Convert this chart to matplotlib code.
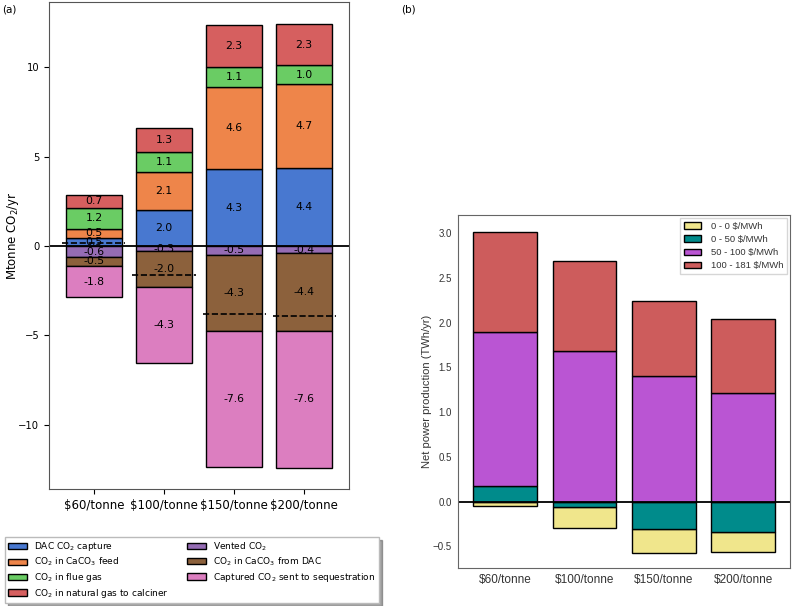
import numpy as np
import matplotlib
matplotlib.use("Agg")
import matplotlib.pyplot as plt

################################################################################
# data
prices = ["$60/tonne", "$100/tonne", "$150/tonne", "$200/tonne"]

# panel (a): Mtonne CO2/yr
dac_capture   = [0.47, 2.00, 4.29, 4.38]
caco3_feed    = [0.48, 2.13, 4.63, 4.68]
flue_gas      = [1.19, 1.14, 1.10, 1.04]
natural_gas   = [0.73, 1.32, 2.33, 2.33]
vented        = [-0.63, -0.30, -0.48, -0.42]
caco3_dac     = [-0.48, -2.01, -4.28, -4.36]
sequestration = [-1.77, -4.26, -7.59, -7.62]
net_removal   = [0.17, -1.62, -3.79, -3.90]

# panel (b): TWh/yr
band_0_0     = [-0.05, -0.23, -0.26, -0.22]
band_0_50    = [0.17, -0.06, -0.31, -0.34]
band_50_100  = [1.73, 1.69, 1.41, 1.22]
band_100_181 = [1.12, 1.00, 0.83, 0.82]
band_labels  = ["0 - 0 \\$/MWh", "0 - 50 \\$/MWh", "50 - 100 \\$/MWh", "100 - 181 \\$/MWh"]

################################################################################
fig = plt.figure(figsize=(7.92, 6.06), dpi=100)
x = np.arange(len(prices))
tick_names = [p.replace("$", "\\$") for p in prices]

# ---- panel (a)
ax = fig.add_axes([0.0619, 0.1931, 0.3788, 0.8036])
muted = ["#4878d0", "#ee854a", "#6acc64", "#d65f5f", "#956cb4", "#8c613c", "#dc7ec0"]
series = [dac_capture, caco3_feed, flue_gas, natural_gas, vented, caco3_dac, sequestration]
names = ["DAC CO$_2$ capture", "CO$_2$ in CaCO$_3$ feed", "CO$_2$ in flue gas",
         "CO$_2$ in natural gas to calciner", "Vented CO$_2$",
         "CO$_2$ in CaCO$_3$ from DAC", "Captured CO$_2$ sent to sequestration"]
pos_bot = np.zeros(4)
neg_bot = np.zeros(4)
handles = []
for vals, col, name in zip(series, muted, names):
    vals = np.array(vals)
    bot = np.where(vals >= 0, pos_bot, neg_bot)
    h = ax.bar(x, vals, 0.8, bottom=bot, color=col, edgecolor="black",
               linewidth=1.0, label=name)
    handles.append(h)
    for xi, v, b in zip(x, vals, bot):
        ax.text(xi, b + v / 2, "%.1f" % v, ha="center", va="center", fontsize=7.8)
    pos_bot = np.where(vals >= 0, pos_bot + vals, pos_bot)
    neg_bot = np.where(vals < 0, neg_bot + vals, neg_bot)

for xi, v in zip(x, net_removal):
    ax.plot([xi - 0.45, xi + 0.45], [v, v], "k--", lw=1.2)
ax.axhline(0, color="black", lw=1.3)
ax.set_xlim(-0.64, 3.64)
ax.set_ylim(-13.6, 13.65)
ax.set_yticks([-10, -5, 0, 5, 10])
ax.set_yticklabels(["\u221210", "\u22125", "0", "5", "10"])
ax.set_xticks(x)
ax.set_xticklabels(tick_names, fontsize=8.5)
ax.tick_params(axis="y", labelsize=7.2)
ax.set_ylabel("Mtonne CO$_2$/yr", fontsize=8.5)
ax.yaxis.set_label_coords(-0.095, 0.52)
for s in ax.spines.values():
    s.set_color("#555555")
fig.text(0.003, 0.985, "(a)", fontsize=7.5, va="center")

leg = fig.legend(handles=handles, ncol=2,
                 loc="lower left", bbox_to_anchor=(0.006, 0.005), fontsize=6.5,
                 shadow=True, fancybox=False, handlelength=2.1, handletextpad=0.8,
                 columnspacing=2.0, labelspacing=0.3, borderpad=0.35, borderaxespad=0)
leg.get_frame().set_edgecolor("#bbbbbb")

# ---- panel (b)
grey = "#333333"
bx = fig.add_axes([0.5783, 0.0627, 0.4192, 0.5825])
bcols = ["khaki", "darkcyan", "mediumorchid", "indianred"]
bands = [band_0_0, band_0_50, band_50_100, band_100_181]
pos_bot = np.zeros(4)
neg_bot = np.zeros(4)
# negatives stack outward from zero in reverse order
neg_start = {}
for i in reversed(range(len(bands))):
    vals = np.array(bands[i])
    neg_start[i] = neg_bot.copy()
    neg_bot = np.where(vals < 0, neg_bot + vals, neg_bot)
bh = []
for i, (vals, col, lab) in enumerate(zip(bands, bcols, band_labels)):
    vals = np.array(vals)
    bot = np.where(vals >= 0, pos_bot, neg_start[i])
    h = bx.bar(x, vals, 0.8, bottom=bot, color=col, edgecolor="black",
               linewidth=1.0, label=lab)
    bh.append(h)
    pos_bot = np.where(vals >= 0, pos_bot + vals, pos_bot)
bx.axhline(0, color="black", lw=1.3)
bx.set_xlim(-0.59, 3.59)
bx.set_ylim(-0.742, 3.205)
bx.set_yticks([-0.5, 0, 0.5, 1.0, 1.5, 2.0, 2.5, 3.0])
bx.set_yticklabels(["\u22120.5", "0.0", "0.5", "1.0", "1.5", "2.0", "2.5", "3.0"])
bx.set_xticks(x)
bx.set_xticklabels(tick_names)
bx.tick_params(axis="x", labelsize=8.5, colors=grey, length=0, pad=4)
bx.tick_params(axis="y", labelsize=7, colors=grey, length=0, pad=4.3)
for t in bx.get_xticklabels() + bx.get_yticklabels():
    t.set_family("Liberation Sans")
bx.set_ylabel("Net power production (TWh/yr)", fontsize=8, color=grey,
              family="Liberation Sans", labelpad=1)
for s in bx.spines.values():
    s.set_color("#666666")
bleg = bx.legend(handles=bh, loc="upper right", prop={"family": "Liberation Sans", "size": 6.8},
                 fancybox=False, handlelength=1.8, handletextpad=1.1, labelspacing=0.45,
                 borderaxespad=0.3)
bleg.get_frame().set_edgecolor("#cccccc")
for t in bleg.get_texts():
    t.set_color(grey)
fig.text(0.507, 0.985, "(b)", fontsize=7.5, va="center")

plt.savefig("out.png", dpi=100)
